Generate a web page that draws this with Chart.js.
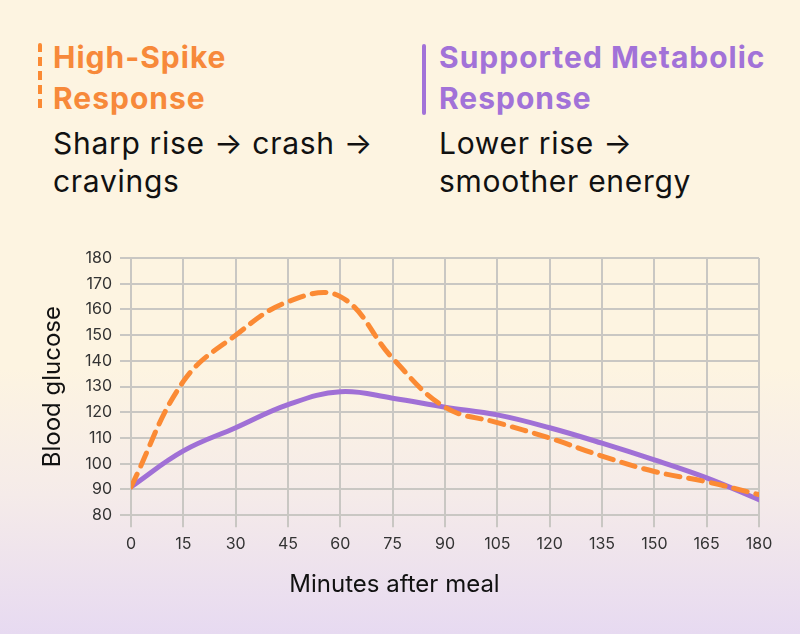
<!DOCTYPE html>
<html>
<head>
<meta charset="utf-8">
<script src="https://cdn.jsdelivr.net/npm/chart.js@4.4.1/dist/chart.umd.min.js"></script>
<style>
    html, body { margin: 0; padding: 0; }
    body {
        width: 800px; height: 634px; position: relative; overflow: hidden;
        font-family: Inter, "Noto Sans", sans-serif;
        background: linear-gradient(180deg, #fdf4e1 0%, #fdf4e1 58%, #f5ebe9 78%, #e7daf1 100%);
    }
    .bar { position: absolute; width: 4px; border-radius: 2px; }
    .bar.spike {
        left: 38px; top: 43px; height: 67px;
        background: repeating-linear-gradient(180deg, #fb8a34 0 9px, transparent 9px 14px);
    }
    .bar.supported { left: 422px; top: 44px; height: 71px; background: #a272d8; }
    .head {
        position: absolute; top: 37px; font-size: 30px; line-height: 41px;
        letter-spacing: 1px; font-weight: 700; margin: 0; white-space: nowrap;
    }
    .sub {
        position: absolute; top: 124px; font-size: 30px; line-height: 38px;
        letter-spacing: 0.7px; font-weight: 400; color: #111; margin: 0; white-space: nowrap;
    }
    #chartBox { position: absolute; left: 0; top: 240px; width: 800px; height: 394px; }
</style>
</head>
<body>
<div class="bar spike"></div>
<div class="head" style="left:53px;color:#f7893a">High-Spike<br>Response</div>
<div class="sub" style="left:53px">Sharp rise → crash →<br>cravings</div>

<div class="bar supported"></div>
<div class="head" style="left:439px;color:#a272d8">Supported Metabolic<br>Response</div>
<div class="sub" style="left:439px">Lower rise →<br>smoother energy</div>

<div id="chartBox"><canvas id="glucoseChart"></canvas></div>

<script>
// ===== DATA =====
const minutes = [0, 15, 30, 45, 60, 75, 90, 105, 120, 135, 150, 165, 180];
const highSpike = [91, 132, 150, 163, 165, 141, 122, 116, 110, 103, 97, 93, 88];
const supported = [91, 105, 114, 123, 128, 125.5, 122, 119, 114, 108, 101.5, 94.5, 86];
const yTicks = [80, 90, 100, 110, 120, 130, 140, 150, 160, 170, 180];

const ORANGE = '#fb8a34';
const PURPLE = '#a070d6';
const GRID = '#c9c7c3';

function toPoints(values) {
    return minutes.map(function(m, i) { return { x: m, y: values[i] }; });
}

const ctx = document.getElementById('glucoseChart');
new Chart(ctx, {
    type: 'line',
    data: {
        datasets: [
            {
                label: 'High-Spike Response',
                data: toPoints(highSpike),
                borderColor: ORANGE,
                borderWidth: 5,
                borderDash: [14, 9],
                borderCapStyle: 'round',
                tension: 0.4,
                pointRadius: 0,
                fill: false
            },
            {
                label: 'Supported Metabolic Response',
                data: toPoints(supported),
                borderColor: PURPLE,
                borderWidth: 5,
                borderCapStyle: 'round',
                tension: 0.4,
                pointRadius: 0,
                fill: false
            }
        ]
    },
    options: {
        responsive: true,
        maintainAspectRatio: false,
        animation: false,
        layout: { padding: { top: 18, left: 30, right: 41, bottom: 0 } },
        scales: {
            x: {
                type: 'linear',
                min: 0,
                max: 180,
                afterBuildTicks: function(scale) {
                    scale.ticks = minutes.map(function(v) { return { value: v }; });
                },
                afterFit: function(scale) { scale.height = 45; },
                ticks: { color: '#333', padding: 7, font: { family: 'Inter', size: 16 } },
                grid: { color: GRID, lineWidth: 2, tickLength: 12 },
                border: { color: GRID, width: 2 }
            },
            y: {
                min: 80,
                max: 180,
                afterBuildTicks: function(scale) {
                    scale.ticks = yTicks.map(function(v) { return { value: v }; });
                },
                afterFit: function(scale) { scale.width = 101; },
                title: {
                    display: true,
                    text: 'Blood glucose',
                    color: '#111',
                    font: { family: 'Inter', size: 24 },
                    padding: { top: 8, bottom: 4 }
                },
                ticks: { color: '#333', padding: 8, font: { family: 'Inter', size: 16 } },
                grid: { color: GRID, lineWidth: 2, tickLength: 11 },
                border: { color: GRID, width: 2 }
            }
        },
        plugins: {
            legend: { display: false },
            tooltip: { enabled: false },
            title: {
                display: true,
                position: 'bottom',
                text: 'Minutes after meal',
                color: '#111',
                font: { family: 'Inter', size: 24, weight: 'normal' },
                padding: { top: 10, bottom: 35 }
            }
        }
    }
});
</script>
</body>
</html>
